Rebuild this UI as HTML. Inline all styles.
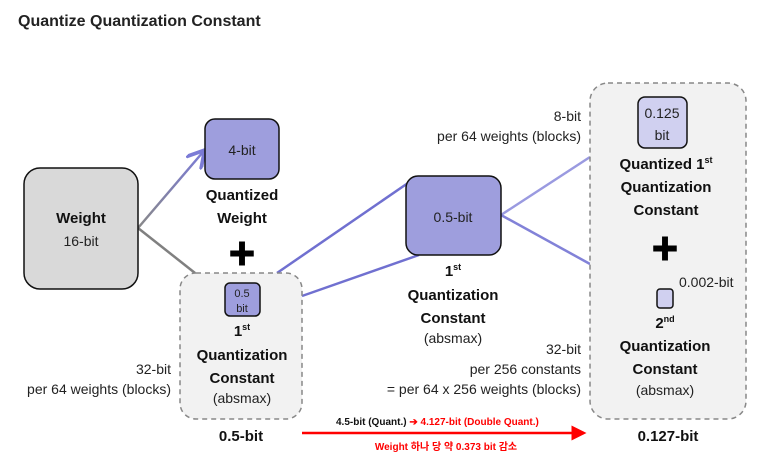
<!DOCTYPE html>
<html><head><meta charset="utf-8"><style>
body{margin:0;background:#fff;}
svg{display:block;font-family:"Liberation Sans","Noto Sans CJK KR",sans-serif;}
.b{font-weight:bold;fill:#111;font-size:15px;}
.n{fill:#222;font-size:14px;}
</style></head><body>
<svg width="770" height="470" viewBox="0 0 770 470">
<defs>
<linearGradient id="g1" x1="0" y1="1" x2="1" y2="0"><stop offset="0" stop-color="#888"/><stop offset="1" stop-color="#7b7bd6"/></linearGradient>
<marker id="ah" markerWidth="8" markerHeight="8" refX="6" refY="4" orient="auto"><path d="M0,0 L7,4 L0,8" fill="none" stroke="#7b7bd6" stroke-width="1.5"/></marker>
<marker id="ar" markerWidth="6" markerHeight="6" refX="5" refY="3" orient="auto"><path d="M0,0 L6,3 L0,6 Z" fill="#f00"/></marker>
</defs>
<text x="18" y="26" font-size="16" font-weight="bold" fill="#222">Quantize Quantization Constant</text>

<g>
<line x1="138" y1="228" x2="203" y2="152" stroke="url(#g1)" stroke-width="2.5" marker-end="url(#ah)"/>
<line x1="138" y1="228" x2="195" y2="273" stroke="#808080" stroke-width="2.5"/>
<line x1="277" y1="273" x2="408" y2="183" stroke="#7070d0" stroke-width="2.5"/>
<line x1="302" y1="296" x2="419" y2="255" stroke="#7070d0" stroke-width="2.5"/>
<line x1="501" y1="215" x2="590" y2="157" stroke="#9a9ae0" stroke-width="2.5"/>
<line x1="501" y1="215" x2="590" y2="264" stroke="#8282d8" stroke-width="2.5"/>
</g>

<rect x="24" y="168" width="114" height="121" rx="16" fill="#d9d9d9" stroke="#111" stroke-width="1.5"/>
<text x="81" y="223" text-anchor="middle" class="b">Weight</text>
<text x="81" y="246" text-anchor="middle" class="n" font-size="15">16-bit</text>

<rect x="205" y="119" width="74" height="60" rx="10" fill="#9e9edd" stroke="#111" stroke-width="1.5"/>
<text x="242" y="155" text-anchor="middle" class="n" font-size="15">4-bit</text>
<text x="242" y="200" text-anchor="middle" class="b">Quantized</text>
<text x="242" y="223" text-anchor="middle" class="b">Weight</text>
<text x="242" y="264" text-anchor="middle" font-size="28" font-weight="bold" fill="#000">✚</text>

<rect x="180" y="273" width="122" height="146" rx="16" fill="#f2f2f2" stroke="#888" stroke-width="1.5" stroke-dasharray="5,4"/>
<rect x="225" y="283" width="35" height="33" rx="5" fill="#9e9edd" stroke="#111" stroke-width="1.5"/>
<text x="242" y="297" text-anchor="middle" font-size="11" fill="#222">0.5</text>
<text x="242" y="312" text-anchor="middle" font-size="11" fill="#222">bit</text>
<text x="242" y="336" text-anchor="middle" class="b">1<tspan font-size="9" dy="-6">st</tspan></text>
<text x="242" y="360" text-anchor="middle" class="b">Quantization</text>
<text x="242" y="383" text-anchor="middle" class="b">Constant</text>
<text x="242" y="403" text-anchor="middle" class="n">(absmax)</text>
<text x="241" y="441" text-anchor="middle" class="b" font-size="16">0.5-bit</text>
<text x="171" y="374" text-anchor="end" class="n">32-bit</text>
<text x="171" y="394" text-anchor="end" class="n">per 64 weights (blocks)</text>

<rect x="406" y="176" width="95" height="79" rx="12" fill="#9e9edd" stroke="#111" stroke-width="1.5"/>
<text x="453" y="222" text-anchor="middle" class="n" font-size="15">0.5-bit</text>
<text x="453" y="276" text-anchor="middle" class="b">1<tspan font-size="9" dy="-6">st</tspan></text>
<text x="453" y="300" text-anchor="middle" class="b">Quantization</text>
<text x="453" y="323" text-anchor="middle" class="b">Constant</text>
<text x="453" y="343" text-anchor="middle" class="n">(absmax)</text>

<text x="581" y="121" text-anchor="end" class="n">8-bit</text>
<text x="581" y="141" text-anchor="end" class="n">per 64 weights (blocks)</text>
<text x="581" y="354" text-anchor="end" class="n">32-bit</text>
<text x="581" y="374" text-anchor="end" class="n">per 256 constants</text>
<text x="581" y="394" text-anchor="end" class="n">= per 64 x 256 weights (blocks)</text>

<rect x="590" y="83" width="156" height="336" rx="18" fill="#f2f2f2" stroke="#888" stroke-width="1.5" stroke-dasharray="5,4"/>
<rect x="638" y="97" width="49" height="51" rx="7" fill="#d0d0f0" stroke="#111" stroke-width="1.5"/>
<text x="662" y="118" text-anchor="middle" class="n" font-size="14">0.125</text>
<text x="662" y="140" text-anchor="middle" class="n" font-size="14">bit</text>
<text x="666" y="169" text-anchor="middle" class="b">Quantized 1<tspan font-size="9" dy="-6">st</tspan></text>
<text x="666" y="192" text-anchor="middle" class="b">Quantization</text>
<text x="666" y="215" text-anchor="middle" class="b">Constant</text>
<text x="665" y="259" text-anchor="middle" font-size="28" font-weight="bold" fill="#000">✚</text>
<text x="679" y="287" class="n" font-size="14">0.002-bit</text>
<rect x="657" y="289" width="16" height="19" rx="3" fill="#d0d0f0" stroke="#111" stroke-width="1.5"/>
<text x="665" y="328" text-anchor="middle" class="b">2<tspan font-size="9" dy="-6">nd</tspan></text>
<text x="665" y="351" text-anchor="middle" class="b">Quantization</text>
<text x="665" y="374" text-anchor="middle" class="b">Constant</text>
<text x="665" y="395" text-anchor="middle" class="n">(absmax)</text>
<text x="668" y="441" text-anchor="middle" class="b" font-size="16">0.127-bit</text>

<line x1="302" y1="433" x2="584" y2="433" stroke="#f00" stroke-width="2.5" marker-end="url(#ar)"/>
<text x="336" y="425" font-size="10" font-weight="bold" fill="#111">4.5-bit (Quant.) <tspan fill="#f00">➔ 4.127-bit (Double Quant.)</tspan></text>
<text x="446" y="450" text-anchor="middle" font-size="10" font-weight="bold" fill="#f00">Weight 하나 당 약 0.373 bit 감소</text>
</svg>
</body></html>
